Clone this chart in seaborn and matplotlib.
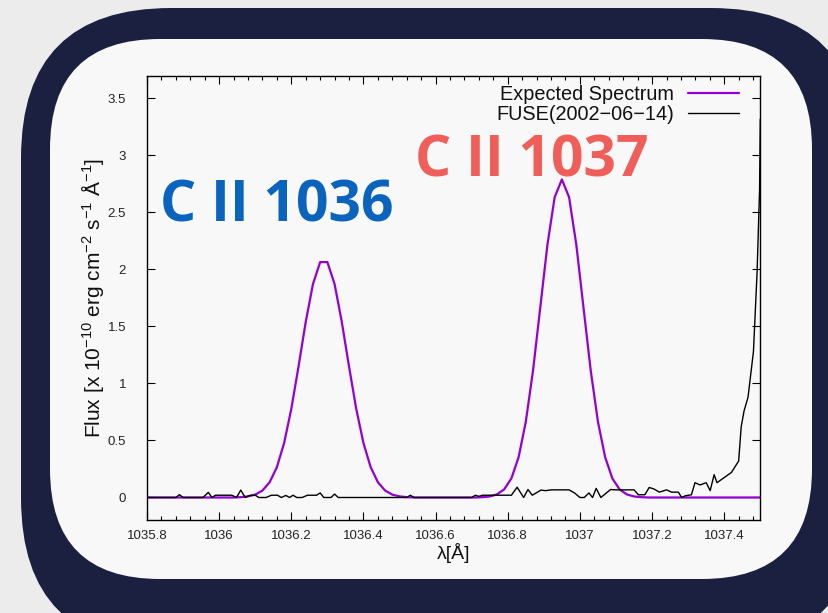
import matplotlib
matplotlib.use("Agg")
import matplotlib.pyplot as plt
from matplotlib.patches import FancyBboxPatch
from matplotlib.ticker import FuncFormatter, MultipleLocator
import numpy as np
import pandas as pd
import seaborn as sns

# ---------------- data ----------------
expected_wl = [1035.80, 1036.04,
               1036.06, 1036.08, 1036.10, 1036.12, 1036.14, 1036.16, 1036.18, 1036.20,
               1036.22, 1036.24, 1036.26, 1036.28, 1036.30, 1036.32, 1036.34, 1036.36,
               1036.38, 1036.40, 1036.42, 1036.44, 1036.46, 1036.48, 1036.50, 1036.52,
               1036.54, 1036.71,
               1036.73, 1036.75, 1036.77, 1036.79, 1036.81, 1036.83, 1036.85, 1036.87,
               1036.89, 1036.91, 1036.93, 1036.95, 1036.97, 1036.99, 1037.01, 1037.03,
               1037.05, 1037.07, 1037.09, 1037.11, 1037.13, 1037.15, 1037.17,
               1037.19, 1037.50]
expected_flux = [0.0, 0.0,
                 0.003, 0.010, 0.025, 0.061, 0.134, 0.266, 0.477, 0.777,
                 1.149, 1.540, 1.872, 2.065, 2.065, 1.872, 1.540, 1.149,
                 0.777, 0.477, 0.266, 0.134, 0.061, 0.025, 0.010, 0.003,
                 0.0, 0.0,
                 0.003, 0.009, 0.027, 0.071, 0.167, 0.353, 0.664, 1.113,
                 1.664, 2.218, 2.634, 2.790, 2.634, 2.218, 1.664, 1.113,
                 0.664, 0.353, 0.167, 0.071, 0.027, 0.009, 0.003,
                 0.0, 0.0]

fuse_wl = [1035.800, 1035.880, 1035.890, 1035.900, 1035.955, 1035.970, 1035.980,
           1035.990, 1036.035, 1036.048, 1036.060, 1036.072, 1036.085, 1036.100,
           1036.110, 1036.130, 1036.145, 1036.162, 1036.172, 1036.185, 1036.195,
           1036.205, 1036.215, 1036.230, 1036.245, 1036.270, 1036.280, 1036.290,
           1036.310, 1036.320, 1036.330, 1036.520, 1036.530, 1036.540, 1036.700,
           1036.710, 1036.720, 1036.730, 1036.810, 1036.826, 1036.844, 1036.856,
           1036.868, 1036.892, 1036.905, 1036.920, 1036.970, 1036.985, 1037.000,
           1037.012, 1037.025, 1037.035, 1037.045, 1037.058, 1037.085, 1037.100,
           1037.150, 1037.162, 1037.180, 1037.192, 1037.205, 1037.220, 1037.240,
           1037.254, 1037.273, 1037.282, 1037.292, 1037.309, 1037.319, 1037.333,
           1037.350, 1037.361, 1037.372, 1037.380, 1037.420, 1037.440, 1037.447,
           1037.455, 1037.466, 1037.481, 1037.491, 1037.498, 1037.500]
fuse_flux = [0.0, 0.0, 0.025, 0.0, 0.0, 0.045, 0.0,
             0.02, 0.02, 0.0, 0.065, 0.0, 0.018, 0.02,
             0.0, 0.0, 0.02, 0.02, 0.0, 0.018, 0.0,
             0.02, 0.0, 0.0, 0.02, 0.02, 0.04, 0.0,
             0.0, 0.03, 0.0, 0.0, 0.02, 0.0, 0.0,
             0.02, 0.01, 0.02, 0.02, 0.09, 0.0, 0.07,
             0.02, 0.065, 0.06, 0.067, 0.067, 0.04, 0.0,
             0.0, 0.04, 0.0, 0.08, 0.0, 0.07, 0.067,
             0.067, 0.024, 0.024, 0.088, 0.075, 0.047, 0.067,
             0.047, 0.047, 0.0, 0.015, 0.024, 0.13, 0.11,
             0.13, 0.06, 0.20, 0.13, 0.22, 0.32, 0.62,
             0.76, 0.88, 1.28, 1.97, 2.70, 3.32]

series_labels = ["Expected Spectrum", "FUSE(2002\u221206\u221214)"]
x_ticks = [1035.8, 1036.0, 1036.2, 1036.4, 1036.6, 1036.8, 1037.0, 1037.2, 1037.4]
y_ticks = [0, 0.5, 1, 1.5, 2, 2.5, 3, 3.5]
line_names = ["C II 1036", "C II 1037"]

# ---------------- figure ----------------
W, H = 829, 613
sns.set_theme(style="ticks")
plt.rcParams['font.family'] = ['Liberation Sans', 'DejaVu Sans']
plt.rcParams['mathtext.fontset'] = 'custom'
plt.rcParams['mathtext.rm'] = 'Liberation Sans'
plt.rcParams['mathtext.it'] = 'Liberation Sans'

fig = plt.figure(figsize=(W / 100, H / 100), dpi=100, facecolor="#ececec")

# decorative frame
bg = fig.add_axes([0, 0, 1, 1], zorder=-10)
bg.set_xlim(0, W)
bg.set_ylim(H, 0)
bg.axis("off")
bg.add_patch(FancyBboxPatch((21, 8), 840, 640, boxstyle="round,pad=0,rounding_size=150",
                            facecolor="#1b2040", edgecolor="none"))
bg.add_patch(FancyBboxPatch((50, 39), 762, 540, boxstyle="round,pad=0,rounding_size=110",
                            facecolor="#f8f8f8", edgecolor="none"))

L, R, T, B = 147, 760.3, 75.7, 520.3
ax = fig.add_axes([L / W, 1 - B / H, (R - L) / W, (B - T) / H])
ax.set_facecolor("#f8f8f8")

df_exp = pd.DataFrame({"wl": expected_wl, "flux": expected_flux})
df_fuse = pd.DataFrame({"wl": fuse_wl, "flux": fuse_flux})

sns.lineplot(data=df_exp, x="wl", y="flux", ax=ax, color="#9400d3", linewidth=1.6,
             label=series_labels[0], estimator=None, sort=False)
sns.lineplot(data=df_fuse, x="wl", y="flux", ax=ax, color="black", linewidth=1.0,
             label=series_labels[1], estimator=None, sort=False)

ax.set_xlim(1035.8, 1037.5)
ax.set_ylim(-0.2, 3.7)
ax.set_xticks(x_ticks)
ax.set_yticks(y_ticks)
ax.xaxis.set_minor_locator(MultipleLocator(0.04))
fmt = FuncFormatter(lambda v, p: "%g" % round(v, 3))
ax.xaxis.set_major_formatter(fmt)
ax.yaxis.set_major_formatter(fmt)
ax.tick_params(axis="both", which="both", direction="in", top=True, right=True,
               colors="black", labelcolor="#222222")
ax.tick_params(axis="both", which="major", length=6, width=0.8, labelsize=9.5)
ax.tick_params(axis="x", which="major", pad=7)
ax.tick_params(axis="y", which="major", pad=15)
ax.tick_params(axis="x", which="minor", length=3, width=0.8)
for s in ax.spines.values():
    s.set_color("black")
    s.set_linewidth(1.0)

ax.set_xlabel("\u03bb[\u00c5]", fontsize=14, labelpad=1, color="#111111")
ax.set_ylabel(r"Flux [x 10$^{-10}$ erg cm$^{-2}$ s$^{-1}$ $\mathrm{\AA}^{-1}$]",
              fontsize=15, labelpad=1.5, color="#111111")

leg = ax.legend(loc="upper right", bbox_to_anchor=(1 - 21 / (R - L), 1 - 9 / (B - T)),
                borderaxespad=0, borderpad=0, frameon=False, fontsize=14.3,
                markerfirst=False, handlelength=2.6, handletextpad=0.7,
                labelspacing=0.05)
for t in leg.get_texts():
    t.set_color("#111111")

ax.text(1035.836, 2.42, line_names[0], color="#0a63bc", fontsize=41,
        fontweight="bold", family=["Open Sans", "DejaVu Sans"], ha="left", va="baseline")
ax.text(1036.543, 2.815, line_names[1], color="#ef5e58", fontsize=41,
        fontweight="bold", family=["Open Sans", "DejaVu Sans"], ha="left", va="baseline")

fig.savefig("out.png", dpi=100, facecolor=fig.get_facecolor())
